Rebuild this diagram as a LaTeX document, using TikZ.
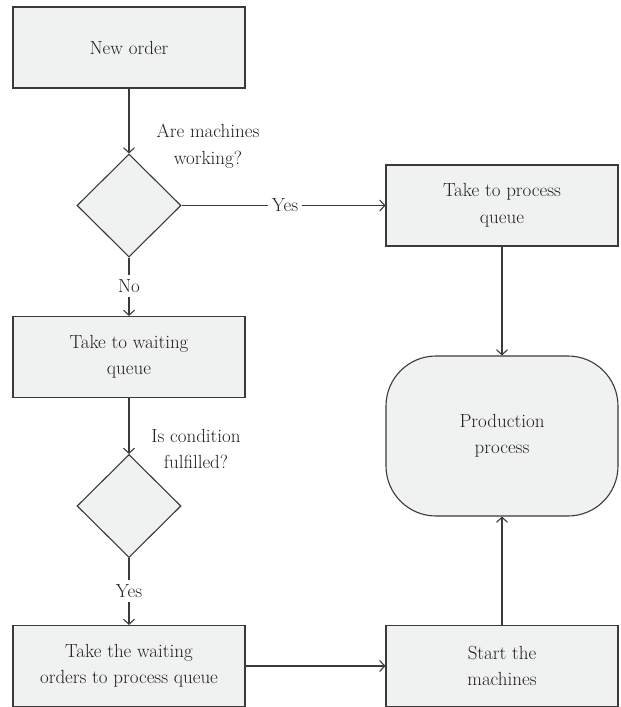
\documentclass[tikz,border=0pt]{standalone}
\usetikzlibrary{shapes.geometric,arrows.meta}
\definecolor{boxfill}{HTML}{F0F1F1}
\definecolor{edge}{HTML}{3A3A3A}
\definecolor{ink}{HTML}{231F20}
\tikzset{
  stepbox/.style={draw=edge, fill=boxfill, line width=1.1pt, minimum width=232pt, minimum height=81pt, align=center, text=ink, inner sep=0pt},
  procbox/.style={stepbox, rounded corners=50pt, minimum height=160pt},
  decision/.style={draw=edge, fill=boxfill, line width=1.1pt, diamond, minimum width=104pt, minimum height=103pt, inner sep=0pt},
  lbl/.style={text=ink, align=center, inner sep=2pt},
  flow/.style={draw=edge, line width=1.1pt},
  arr/.style={flow, -{Straight Barb[length=5pt,width=11pt,line width=1.1pt]}},
}
\begin{document}
\begin{tikzpicture}[x=1pt,y=-1pt,font=\fontsize{19}{26.5}\selectfont]
\useasboundingbox (0,0) rectangle (621,707);

% left column
\node[stepbox] (new) at (129,47.5) {New order};
\node[decision] (d1) at (129,205.5) {};
\node[stepbox] (wait) at (129,357) {Take to waiting\\queue};
\node[decision] (d2) at (129,506) {};
\node[stepbox] (move) at (129,666) {Take the waiting\\orders to process queue};

% right column
\node[stepbox] (pq) at (502,205.5) {Take to process\\queue};
\node[procbox] (prod) at (502,436) {Production\\process};
\node[stepbox] (start) at (502,666) {Start the\\machines};

% decision captions
\node[lbl] (q1) at (208,146) {Are machines\\working?};
\node[lbl] (q2) at (196,449) {Is condition\\fulfilled?};

% branch labels placed on the connectors
\node[lbl, inner sep=4pt] (yes1) at (285,205.5) {Yes};
\node[lbl, inner sep=4pt] (no1) at (129,286) {No};
\node[lbl, inner sep=4pt] (yes2) at (129,591) {Yes};

% connectors
\draw[arr] (new) -- (d1.north);
\draw[flow] (d1.east) -- (d1.east -| yes1.west);
\draw[arr] (yes1.east |- d1.east) -- (pq.west);
\draw[flow] (d1.south) -- (no1.north);
\draw[arr] (no1.south) -- (wait.north);
\draw[arr] (wait) -- (d2.north);
\draw[flow] (d2.south) -- (yes2.north);
\draw[arr] (yes2.south) -- (move.north);
\draw[arr] (move.east) -- (start.west);
\draw[arr] (pq) -- (prod.north);
\draw[arr] (start) -- (prod.south);
\end{tikzpicture}
\end{document}
